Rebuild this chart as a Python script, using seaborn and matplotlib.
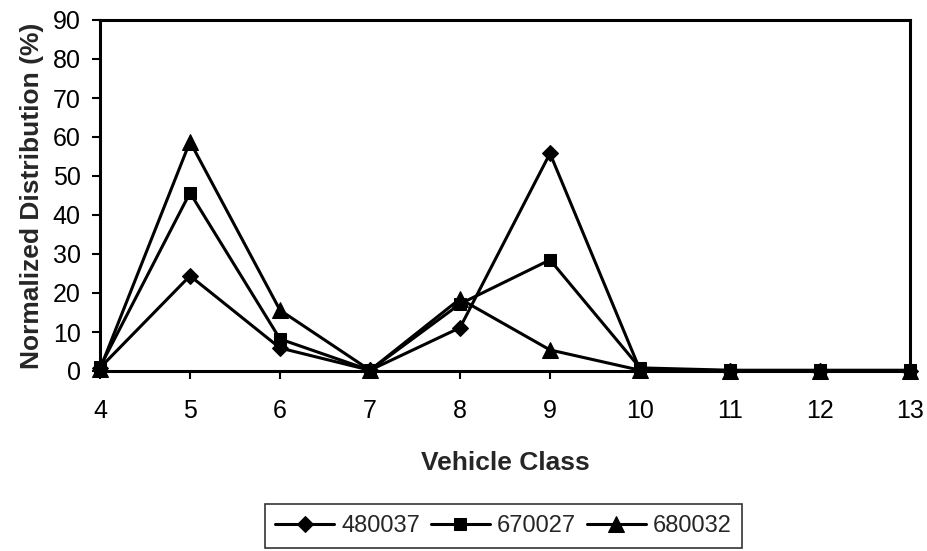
import matplotlib
matplotlib.use("Agg")
import matplotlib.pyplot as plt
import seaborn as sns
import pandas as pd

vehicle_class = [4, 5, 6, 7, 8, 9, 10, 11, 12, 13]
s480037 = [0.8, 24.4, 5.9, 0.2, 11.1, 55.8, 0.3, 0.1, 0.1, 0.1]
s670027 = [1.0, 45.7, 8.2, 0.2, 17.2, 28.5, 0.8, 0.2, 0.2, 0.2]
s680032 = [0.5, 58.8, 15.6, 0.2, 18.5, 5.4, 0.2, 0.0, 0.0, 0.0]
series_names = ["480037", "670027", "680032"]
markers = ["D", "s", "^"]
marker_sizes = [8.5, 9, 11]

sns.set_theme(style="white")
plt.rcParams["font.family"] = ["Liberation Sans", "DejaVu Sans"]

rows = []
for name, vals in zip(series_names, [s480037, s670027, s680032]):
    for x, v in zip(vehicle_class, vals):
        rows.append({"Vehicle Class": x, "value": v, "series": name})
df = pd.DataFrame(rows)

fig = plt.figure(figsize=(9.28, 5.51), dpi=100)
ax = fig.add_axes([100 / 928, 1 - 371 / 551, 810 / 928, 351 / 551])

for name, m, ms in zip(series_names, markers, marker_sizes):
    sub = df[df["series"] == name]
    sns.lineplot(data=sub, x="Vehicle Class", y="value", ax=ax, color="black",
                 marker=m, markersize=ms, markeredgecolor="black",
                 linewidth=2.2, label=name, clip_on=False, zorder=3)

ax.set_xlim(4, 13)
ax.set_ylim(0, 90)
ax.set_xticks(vehicle_class)
ax.set_yticks(range(0, 91, 10))
ax.tick_params(axis="both", labelsize=18, direction="out", length=6, width=1.5,
               bottom=True, left=True, colors="black")
ax.tick_params(axis="x", pad=14)
ax.tick_params(axis="y", pad=8)
for sp in ax.spines.values():
    sp.set_visible(True)
    sp.set_color("black")
    sp.set_linewidth(2.2)
ax.set_xlabel("Vehicle Class", fontsize=19, fontweight="bold", labelpad=20)
ax.set_ylabel("Normalized Distribution (%)", fontsize=19, fontweight="bold", labelpad=6)

leg = ax.legend(loc="center", bbox_to_anchor=(503.5 / 928, 1 - 526 / 551),
                bbox_transform=fig.transFigure, ncol=3, frameon=True,
                fontsize=17, handlelength=2.5, columnspacing=0.45,
                handletextpad=0.3, borderpad=0.45, fancybox=False)
leg.get_frame().set_edgecolor("black")
leg.get_frame().set_linewidth(1.2)

fig.savefig("out.png", dpi=100)
